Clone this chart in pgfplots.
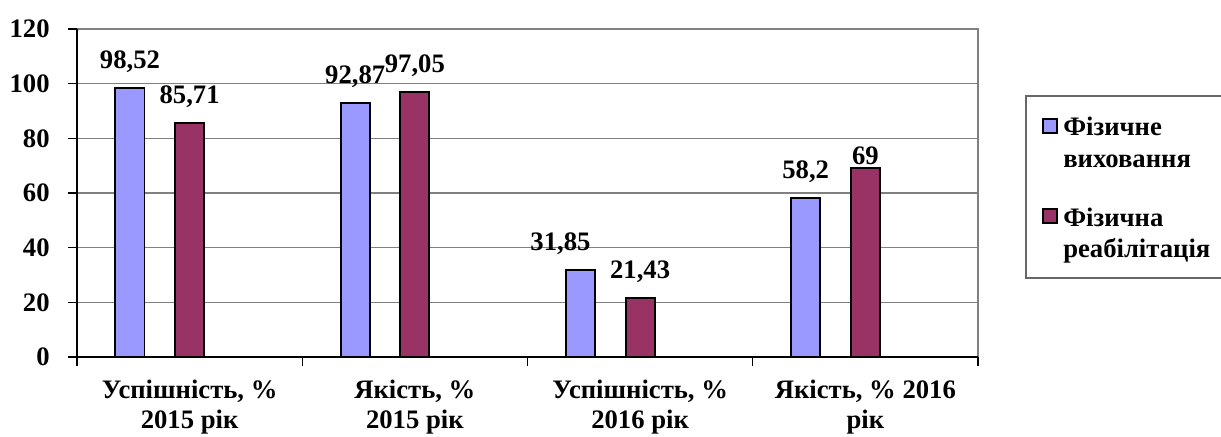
\documentclass[border=0pt]{standalone}
\usepackage{pgfplots}
\pgfplotsset{compat=1.18}
\usepackage{pgfplotstable}
\usepackage{fontspec}
\setmainfont{Liberation Serif}
\definecolor{fvblue}{HTML}{9999FF}
\definecolor{frred}{HTML}{993366}
\definecolor{gridgray}{HTML}{808080}
\newcommand\ff{\fontsize{20}{22.5}\selectfont\bfseries}

\pgfplotstableread{
x y lab dx dy
-0.265 98.52 98,52 0 0
0.735 92.87 92,87 0 0
1.735 31.85 31,85 -15 0
2.735 58.2 58,2 0 0
}\fizvyh
\pgfplotstableread{
x y lab dx dy
0 85.71 85,71 0 0
1 97.05 97,05 0 0
2 21.43 21,43 0 0
3 69 69 0 -11.75
}\fizreab

\begin{document}
\begin{tikzpicture}
\begin{axis}[
  name=ax,
  scale only axis, width=675.75pt, height=246pt,
  xmin=-0.5, xmax=3.5, ymin=0, ymax=120,
  ytick={0,20,...,120},
  xtick={-0.5,0.5,1.5,2.5,3.5}, xticklabels={},
  extra x ticks={0,1,2,3},
  extra x tick labels={{Успішність, \%\\2015 рік},{Якість, \%\\2015 рік},{Успішність, \%\\2016 рік},{Якість, \% 2016\\рік}},
  extra x tick style={major tick length=0pt, xticklabel style={align=center, yshift=-14pt}},
  xtick pos=bottom, ytick pos=left,
  tick align=outside,
  major tick length=6.5pt,
  tick style={black, line width=1.1pt},
  ymajorgrids, grid style={gridgray, line width=0.9pt},
  axis line style={draw=none},
  /pgf/number format/assume math mode=true,
  tick label style={font=\ff},
  yticklabel style={xshift=-10.5pt},
  ybar, bar shift=0pt, bar width=0.129,
  clip=false,
  nodes near coords,
  point meta=explicit symbolic,
  visualization depends on={\thisrow{dx} \as \dx},
  visualization depends on={\thisrow{dy} \as \dy},
  every node near coord/.append style={font=\ff, inner sep=0pt, text depth=0pt, xshift=\dx pt, yshift=14pt+\dy pt},
]
\addplot[draw=black, line width=1.4pt, fill=fvblue] table[x=x, y=y, meta=lab] {\fizvyh};
\addplot[draw=black, line width=1.4pt, fill=frred] table[x=x, y=y, meta=lab] {\fizreab};
\draw[gridgray, line width=1.1pt] (rel axis cs:0,1) -- (rel axis cs:1,1) -- (rel axis cs:1,0);
\draw[black, line width=1.1pt] (rel axis cs:0,1) -- (rel axis cs:0,0) -- (rel axis cs:1,0);
\end{axis}
% legend
\draw[gridgray!80!black, line width=0.8pt] ([shift={(711.75pt,195.75pt)}]ax.south west) rectangle ([shift={(905pt,59.25pt)}]ax.south west);
\draw[black, line width=0.9pt, fill=fvblue] ([shift={(724.5pt,168pt)}]ax.south west) rectangle ([shift={(735pt,178.5pt)}]ax.south west);
\draw[black, line width=0.9pt, fill=frred] ([shift={(724.5pt,100.5pt)}]ax.south west) rectangle ([shift={(735pt,111pt)}]ax.south west);
\node[anchor=base west, inner sep=0pt, font=\ff] at ([shift={(739.5pt,165.75pt)}]ax.south west) {Фізичне};
\node[anchor=base west, inner sep=0pt, font=\ff] at ([shift={(739.5pt,142.5pt)}]ax.south west) {виховання};
\node[anchor=base west, inner sep=0pt, font=\ff] at ([shift={(739.5pt,98.25pt)}]ax.south west) {Фізична};
\node[anchor=base west, inner sep=0pt, font=\ff] at ([shift={(739.5pt,75pt)}]ax.south west) {реабілітація};
\pgfresetboundingbox
\path[use as bounding box] ([shift={(-57.75pt,-59.25pt)}]ax.south west) rectangle ([shift={(858pt,267.75pt)}]ax.south west);
\end{tikzpicture}
\end{document}
